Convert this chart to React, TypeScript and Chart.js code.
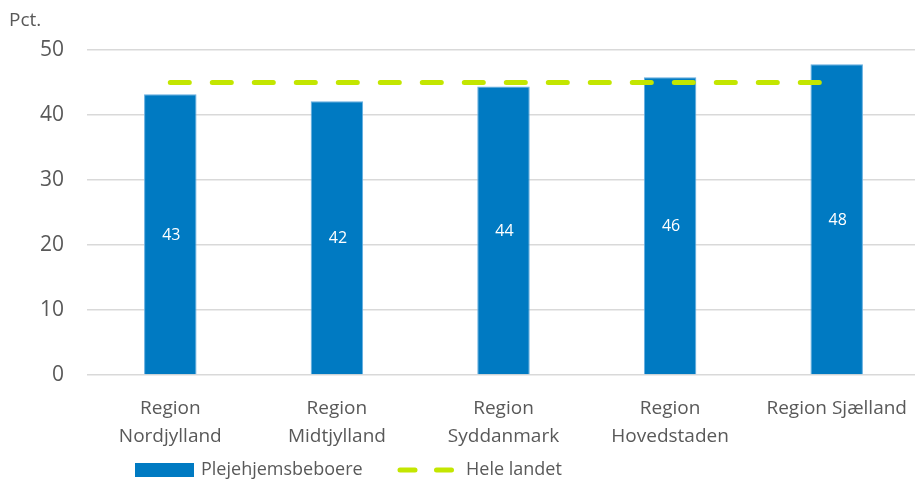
import React, { useEffect, useRef } from "react";
import { Chart, registerables } from "chart.js";

Chart.register(...registerables);

const categories: (string | string[])[] = [
  ["Region", "Nordjylland"],
  ["Region", "Midtjylland"],
  ["Region", "Syddanmark"],
  ["Region", "Hovedstaden"],
  "Region Sjælland",
];
const plejehjemsbeboere = [43.2, 42.1, 44.4, 45.8, 47.8];
const barLabels = ["43", "42", "44", "46", "48"];
const heleLandet = [45, 45, 45, 45, 45];
const yTicks = [0, 10, 20, 30, 40, 50];

const FONT = "'Open Sans', sans-serif";
const GREY = "#595959";
const BLUE = "#007AC2";
const LIME = "#C3E600";

export default function App() {
  const ref = useRef<HTMLCanvasElement | null>(null);

  useEffect(() => {
    if (!ref.current) return;

    const extras = {
      id: "extras",
      afterDatasetsDraw(chart: any) {
        const ctx = chart.ctx;
        const meta = chart.getDatasetMeta(0);
        ctx.save();
        ctx.fillStyle = "#ffffff";
        ctx.font = `16px ${FONT}`;
        ctx.textAlign = "center";
        ctx.textBaseline = "middle";
        meta.data.forEach((bar: any, i: number) => {
          const y = (bar.y + bar.base) / 2 + 1;
          ctx.fillText(barLabels[i], bar.x + 1, y);
        });
        ctx.restore();
      },
      afterDraw(chart: any) {
        const ctx = chart.ctx;
        ctx.save();
        // unit label
        ctx.fillStyle = GREY;
        ctx.font = `19px ${FONT}`;
        ctx.textAlign = "left";
        ctx.textBaseline = "middle";
        ctx.fillText("Pct.", 9, 21);
        // legend
        const ly = 470;
        ctx.fillStyle = BLUE;
        ctx.fillRect(135, 463, 59, 14);
        ctx.fillStyle = GREY;
        ctx.font = `18px ${FONT}`;
        ctx.fillText("Plejehjemsbeboere", 201, ly);
        ctx.strokeStyle = LIME;
        ctx.lineWidth = 5;
        ctx.lineCap = "round";
        ctx.beginPath();
        ctx.moveTo(400, ly);
        ctx.lineTo(415, ly);
        ctx.moveTo(436.5, ly);
        ctx.lineTo(451.5, ly);
        ctx.stroke();
        ctx.fillText("Hele landet", 466, ly);
        ctx.restore();
      },
    };

    const chart = new Chart(ref.current, {
      type: "bar",
      data: {
        labels: categories,
        datasets: [
          {
            type: "bar",
            label: "Plejehjemsbeboere",
            data: plejehjemsbeboere,
            backgroundColor: BLUE,
            borderColor: "#63ADE0",
            borderWidth: 1,
            categoryPercentage: 1,
            barPercentage: 0.315,
            order: 2,
          },
          {
            type: "line",
            label: "Hele landet",
            data: heleLandet,
            borderColor: LIME,
            borderWidth: 5,
            borderDash: [19, 23],
            borderCapStyle: "round",
            pointRadius: 0,
            fill: false,
            order: 1,
          },
        ],
      },
      options: {
        responsive: false,
        animation: false,
        devicePixelRatio: 1,
        layout: { padding: { top: 50, left: 0, right: 0, bottom: 0 } },
        plugins: {
          legend: { display: false },
          tooltip: { enabled: false },
        },
        scales: {
          x: {
            grid: { display: false },
            border: { display: false },
            ticks: {
              color: GREY,
              font: { family: FONT, size: 19, lineHeight: 1.47 },
              padding: 12,
              maxRotation: 0,
              autoSkip: false,
            },
            afterFit(scale: any) {
              scale.height = 104;
            },
          },
          y: {
            min: 0,
            max: 50,
            afterBuildTicks(scale: any) {
              scale.ticks = yTicks.map((v) => ({ value: v }));
            },
            grid: {
              color: "#d9d9d9",
              lineWidth: 1.5,
              drawTicks: false,
            },
            border: { display: false },
            ticks: {
              color: GREY,
              font: { family: FONT, size: 21 },
              padding: 23,
            },
            afterFit(scale: any) {
              scale.width = 87;
            },
          },
        },
      },
      plugins: [extras],
    } as any);

    return () => chart.destroy();
  }, []);

  return (
    <div
      style={{
        position: "absolute",
        left: 0,
        top: 0,
        width: 915,
        height: 479,
        overflow: "hidden",
        background: "#ffffff",
      }}
    >
      <canvas ref={ref} width={920} height={479} />
    </div>
  );
}
